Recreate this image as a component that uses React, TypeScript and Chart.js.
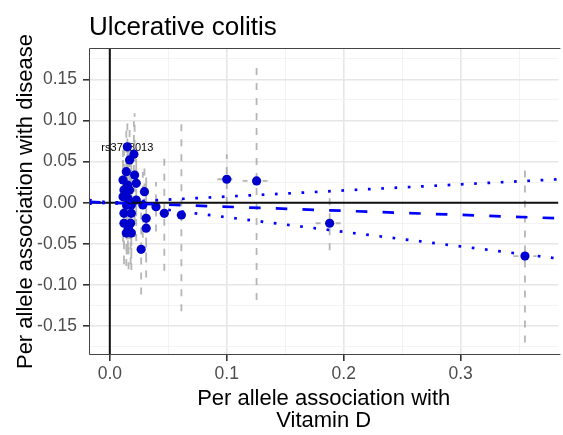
import React, { useEffect, useRef } from 'react';
import { Chart, registerables } from 'chart.js';

Chart.register(...registerables);

// ---- data ----
const xBeta = [0.015, 0.0169, 0.0206, 0.0141, 0.0113, 0.0212, 0.0226, 0.0121, 0.0169, 0.0296, 0.0113, 0.0155, 0.0184, 0.0226, 0.0282, 0.0395, 0.0311, 0.0311, 0.0466, 0.0612, 0.0121, 0.0184, 0.0121, 0.0178, 0.0141, 0.0184, 0.0268, 0.0152, 0.0144, 0.016, 0.1, 0.1255, 0.188, 0.355];
const yBeta = [0.068, 0.052, 0.059, 0.0377, 0.0276, 0.0337, 0.0236, 0.0155, 0.0155, 0.0134, 0.0073, 0.0054, -0.0028, 0.0033, -0.0028, -0.0049, -0.019, -0.031, -0.0129, -0.015, -0.0129, -0.0129, -0.025, -0.025, -0.037, -0.037, -0.0567, 0.0215, -0.003, -0.031, 0.0285, 0.0265, -0.025, -0.065];
const yErr = [0.035, 0.045, 0.04, 0.05, 0.045, 0.075, 0.04, 0.05, 0.06, 0.035, 0.055, 0.06, 0.05, 0.05, 0.04, 0.03, 0.05, 0.06, 0.07, 0.117, 0.06, 0.055, 0.05, 0.05, 0.04, 0.045, 0.055, 0.05, 0.06, 0.05, 0.03, 0.145, 0.033, 0.105];
const xErr = [0.003, 0.003, 0.003, 0.003, 0.003, 0.003, 0.003, 0.003, 0.003, 0.003, 0.003, 0.003, 0.003, 0.003, 0.003, 0.004, 0.003, 0.003, 0.004, 0.004, 0.003, 0.003, 0.003, 0.003, 0.003, 0.003, 0.003, 0.003, 0.003, 0.003, 0.008, 0.012, 0.012, 0.01];
const labelText = 'rs3768013';
const labelIndex = 0;

const fitX = [-0.0178, 0.3836];
const ivwY = [0.0009, -0.019];
const upperY = [-0.0013, 0.0285];
const lowerY = [0.0032, -0.068];

const xMajor = [0, 0.1, 0.2, 0.3];
const xMinor = [0.05, 0.15, 0.25, 0.35];
const yMajor = [-0.15, -0.1, -0.05, 0, 0.05, 0.1, 0.15];
const yMinor = [-0.175, -0.125, -0.075, -0.025, 0.025, 0.075, 0.125, 0.175];

const X_MIN = -0.0178, X_MAX = 0.3836;
const Y_MIN = -0.1853, Y_MAX = 0.1882;

const titleText = 'Ulcerative colitis';
const xTitle = ['Per allele association with', 'Vitamin D'];
const yTitle = 'Per allele association with disease';

const FONT = '"Liberation Sans", Arial, Helvetica, sans-serif';

const isIn = (arr: number[], v: number) => arr.some((m) => Math.abs(m - v) < 1e-9);

export default function App() {
  const ref = useRef<HTMLCanvasElement>(null);

  useEffect(() => {
    const vBars: any[] = [];
    const hBars: any[] = [];
    xBeta.forEach((x, i) => {
      vBars.push({ x, y: yBeta[i] - yErr[i] }, { x, y: yBeta[i] + yErr[i] }, { x, y: null });
      hBars.push({ x: x - xErr[i], y: yBeta[i] }, { x: x + xErr[i], y: yBeta[i] }, { x, y: null });
    });
    const points = xBeta.map((x, i) => ({ x, y: yBeta[i] }));

    const decor = {
      id: 'decor',
      beforeDatasetsDraw(chart: any) {
        const { ctx, scales } = chart;
        const px = scales.x.getPixelForValue(xBeta[labelIndex]);
        const py = scales.y.getPixelForValue(yBeta[labelIndex]);
        ctx.save();
        ctx.font = `11px ${FONT}`;
        ctx.fillStyle = '#000';
        ctx.textAlign = 'center';
        ctx.textBaseline = 'middle';
        ctx.fillText(labelText, px, py + 1.5);
        ctx.restore();
      },
      afterDraw(chart: any) {
        const { ctx, chartArea: a } = chart;
        ctx.save();
        ctx.strokeStyle = '#444';
        ctx.lineWidth = 1;
        ctx.beginPath();
        ctx.moveTo(a.right + 2, a.top + 0.5);
        ctx.lineTo(a.left + 0.5, a.top + 0.5);
        ctx.lineTo(a.left + 0.5, a.bottom - 0.5);
        ctx.lineTo(a.right + 2, a.bottom - 0.5);
        ctx.stroke();

        ctx.fillStyle = '#000';
        ctx.font = `26px ${FONT}`;
        ctx.textAlign = 'left';
        ctx.textBaseline = 'alphabetic';
        ctx.fillText(titleText, a.left, 35);

        ctx.font = `22px ${FONT}`;
        ctx.textAlign = 'center';
        const cx = (a.left + a.right) / 2;
        ctx.fillText(xTitle[0], cx, 405);
        ctx.fillText(xTitle[1], cx, 427);

        ctx.translate(31.5, (a.top + a.bottom) / 2);
        ctx.rotate(-Math.PI / 2);
        ctx.fillText(yTitle, 0, 0);
        ctx.restore();
      },
    };

    const gridColor = (arr: number[]) => (c: any) => (c.tick && isIn(arr, c.tick.value) ? '#e6e6e6' : '#f2f2f2');
    const gridWidth = (arr: number[]) => (c: any) => (c.tick && isIn(arr, c.tick.value) ? 1.6 : 0.9);
    const tickColor = (arr: number[]) => (c: any) => (c.tick && isIn(arr, c.tick.value) ? '#333' : 'rgba(0,0,0,0)');

    const chart = new Chart(ref.current as HTMLCanvasElement, {
      type: 'scatter',
      data: {
        datasets: [
          {
            type: 'line',
            data: fitX.map((x, i) => ({ x, y: ivwY[i] })),
            borderColor: '#0000ff',
            borderWidth: 2.7,
            borderDash: [11.5, 15.2],
            pointRadius: 0,
            order: 0,
          } as any,
          {
            type: 'line',
            data: fitX.map((x, i) => ({ x, y: upperY[i] })),
            borderColor: '#0000ff',
            borderWidth: 2.7,
            borderDash: [2.7, 10.6],
            pointRadius: 0,
            order: 0,
          } as any,
          {
            type: 'line',
            data: fitX.map((x, i) => ({ x, y: lowerY[i] })),
            borderColor: '#0000ff',
            borderWidth: 2.7,
            borderDash: [2.7, 10.6],
            pointRadius: 0,
            order: 0,
          } as any,
          {
            type: 'line',
            data: [{ x: X_MIN, y: 0 }, { x: X_MAX, y: 0 }],
            borderColor: '#111',
            borderWidth: 2,
            pointRadius: 0,
            order: 1,
          } as any,
          {
            type: 'line',
            data: [{ x: 0, y: Y_MIN }, { x: 0, y: Y_MAX }],
            borderColor: '#111',
            borderWidth: 2,
            pointRadius: 0,
            order: 1,
          } as any,
          {
            data: points,
            backgroundColor: '#0000cd',
            borderWidth: 0,
            pointRadius: 4.6,
            order: 2,
          } as any,
          {
            type: 'line',
            data: vBars,
            borderColor: 'rgba(150,150,150,0.7)',
            borderWidth: 1.8,
            borderDash: [7, 8],
            pointRadius: 0,
            spanGaps: false,
            order: 3,
          } as any,
          {
            type: 'line',
            data: hBars,
            borderColor: 'rgba(150,150,150,0.7)',
            borderWidth: 1.8,
            borderDash: [5, 5],
            pointRadius: 0,
            spanGaps: false,
            order: 3,
          } as any,
        ],
      },
      options: {
        responsive: false,
        animation: false,
        devicePixelRatio: 1,
        layout: { padding: { top: 48, left: 0, right: 0, bottom: 0 } },
        plugins: { legend: { display: false }, tooltip: { enabled: false }, title: { display: false } },
        scales: {
          x: {
            type: 'linear',
            min: X_MIN,
            max: X_MAX,
            afterBuildTicks: (s: any) => {
              s.ticks = [...xMajor, ...xMinor].sort((a, b) => a - b).map((v) => ({ value: v }));
            },
            afterFit: (s: any) => {
              s.height = 80;
            },
            border: { display: false },
            grid: {
              color: gridColor(xMajor),
              lineWidth: gridWidth(xMajor),
              tickColor: tickColor(xMajor),
              tickLength: 6,
              drawTicks: true,
            },
            ticks: {
              autoSkip: false,
              maxRotation: 0,
              padding: 3,
              color: '#4d4d4d',
              font: { family: FONT, size: 17.5 },
              callback: (v: any) => (isIn(xMajor, Number(v)) ? Number(v).toFixed(1) : ''),
            },
          },
          y: {
            type: 'linear',
            min: Y_MIN,
            max: Y_MAX,
            afterBuildTicks: (s: any) => {
              s.ticks = [...yMajor, ...yMinor].sort((a, b) => a - b).map((v) => ({ value: v }));
            },
            afterFit: (s: any) => {
              s.width = 89;
            },
            border: { display: false },
            grid: {
              color: gridColor(yMajor),
              lineWidth: gridWidth(yMajor),
              tickColor: tickColor(yMajor),
              tickLength: 6,
              drawTicks: true,
            },
            ticks: {
              autoSkip: false,
              padding: 6,
              color: '#4d4d4d',
              font: { family: FONT, size: 17.5 },
              callback: (v: any) => (isIn(yMajor, Number(v)) ? Number(v).toFixed(2) : ''),
            },
          },
        },
      } as any,
      plugins: [decor],
    });
    return () => chart.destroy();
  }, []);

  return (
    <div style={{ position: 'absolute', left: 0, top: 0, width: 563, height: 435, background: '#fff' }}>
      <canvas ref={ref} width={563} height={435} style={{ display: 'block', width: 563, height: 435 }} />
    </div>
  );
}
